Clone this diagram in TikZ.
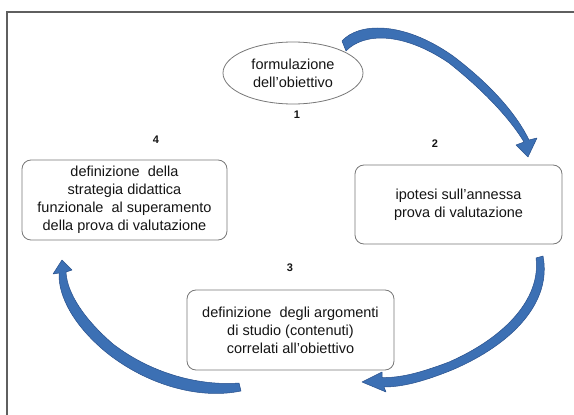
\documentclass[tikz,border=0pt]{standalone}
\usepackage{fontspec}
\setmainfont{Liberation Sans}
\usetikzlibrary{shapes.geometric}
\definecolor{arrowblue}{RGB}{60,112,180}
\definecolor{arrowedge}{RGB}{40,80,140}
\definecolor{framegray}{RGB}{95,95,95}
\definecolor{boxgray}{RGB}{120,120,120}
\definecolor{txt}{RGB}{20,20,20}
\tikzset{
  stagebox/.style={draw=boxgray, line width=0.8pt, rounded corners=9pt, align=center,
    font=\fontsize{14.5}{18}\selectfont, text=txt, inner sep=0pt},
  stepnum/.style={font=\bfseries\fontsize{11}{12}\selectfont, text=txt},
  bluearrow/.style={fill=arrowblue, draw=arrowedge, line width=0.5pt, line join=round}
}
\begin{document}
\begin{tikzpicture}[x=1pt,y=-1pt]
\useasboundingbox (0,0) rectangle (574,415);
% frame
\draw[framegray, line width=1.4pt] (7,415) -- (7,12) -- (574,12);
% nodes
\node[stagebox, ellipse, rounded corners=0pt, minimum width=140pt, minimum height=62pt] (obj) at (293,73)
  {formulazione\\dell'obiettivo};
\node[stagebox, minimum width=207pt, minimum height=79pt] (prova) at (458.5,204.5)
  {ipotesi sull'annessa\\prova di valutazione};
\node[stagebox, minimum width=207pt, minimum height=80pt] (arg) at (290.5,330)
  {definizione\ \ degli argomenti\\di studio (contenuti)\\correlati all'obiettivo};
\node[stagebox, minimum width=205pt, minimum height=80pt] (strat) at (124.5,200)
  {definizione\ \ della\\strategia didattica\\funzionale\ \ al superamento\\della prova di valutazione};
% numbers
\node[stepnum] (n1) at (297,115) {1};
\node[stepnum] (n2) at (435,144) {2};
\node[stepnum] (n3) at (290,268) {3};
\node[stepnum] (n4) at (156,140) {4};
% arrow 1 -> 2
\path[bluearrow] (342,41) .. controls (358,23) and (402,20) .. (453,56)
  .. controls (494,87) and (518,117) .. (529,140)
  -- (537,138) -- (528,157) -- (516,145) -- (524,142)
  .. controls (512,122) and (488,94) .. (449,63)
  .. controls (402,31) and (363,33) .. (346,51) -- cycle;
% arrow 2 -> 3
\path[bluearrow] (543,256) .. controls (552,302) and (513,344) .. (452,370)
  .. controls (420,383) and (400,387) .. (384,387)
  -- (386,392) -- (362,382) -- (382,372) -- (382,377.5)
  .. controls (400,378) and (420,373) .. (449,362)
  .. controls (506,337) and (541,298) .. (536,258) -- cycle;
% arrow 3 -> 4
\path[bluearrow] (241,391) .. controls (198,400) and (146,384) .. (107,353)
  .. controls (75,327) and (58,297) .. (59,273)
  -- (53,274) -- (62,260) -- (72,270) -- (66,272)
  .. controls (67,293) and (84,319) .. (113,344)
  .. controls (152,374) and (200,386) .. (239,383) -- cycle;
\end{tikzpicture}
\end{document}
